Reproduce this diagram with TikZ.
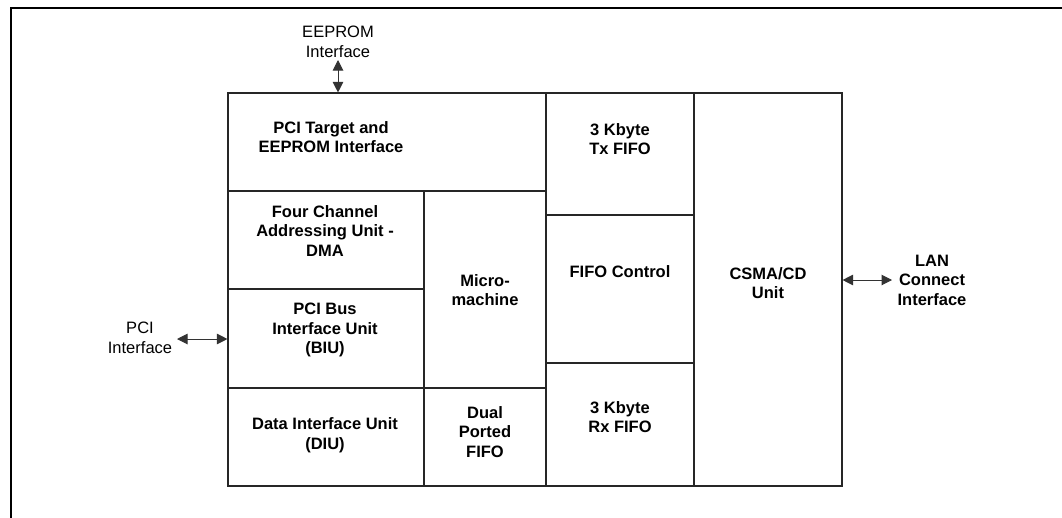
\documentclass[tikz,border=0pt]{standalone}
\usepackage{fontspec}
\setmainfont{Liberation Sans}
\usetikzlibrary{arrows.meta,fit}
\begin{document}
\begin{tikzpicture}[x=1pt,y=-1pt,
  blk/.style={draw=black!85, line width=1.1pt, inner sep=0pt},
  lbl/.style={align=center, inner sep=0pt, font=\fontsize{16.5}{19.5}\selectfont\bfseries},
  ext/.style={align=center, inner sep=0pt, font=\fontsize{16.5}{19.5}\selectfont},
  conn/.style={draw=black!80, line width=1pt, {Triangle[length=10.5pt,width=10.5pt]}-{Triangle[length=10.5pt,width=10.5pt]}}]
\useasboundingbox (0,0) rectangle (1062,517);
% outer frame (only top and left visible)
\draw[line width=2.4pt] (11,520) -- (11,8) -- (1065,8);
% blocks
\node[blk, fit={(228,93) (546,191)}] (ptarget) {};
\node[blk, fit={(228,191) (424,289)}] (dma) {};
\node[blk, fit={(228,289) (424,388)}] (biu) {};
\node[blk, fit={(228,388) (424,486)}] (diu) {};
\node[blk, fit={(424,191) (546,388)}] (micro) {};
\node[blk, fit={(424,388) (546,486)}] (dual) {};
\node[blk, fit={(546,93) (694,215)}] (tx) {};
\node[blk, fit={(546,215) (694,363)}] (fifoc) {};
\node[blk, fit={(546,363) (694,486)}] (rx) {};
\node[blk, fit={(694,93) (842,486)}] (csma) {};
% block texts
\node[lbl] (tptarget) at (331,137) {PCI Target and\\EEPROM Interface};
\node[lbl] (tdma) at (325,231) {Four Channel\\Addressing Unit -\\DMA};
\node[lbl] (tbiu) at (325,330) {PCI Bus\\Interface Unit\\(BIU)};
\node[lbl] (tdiu) at (325,435) {Data Interface Unit\\(DIU)};
\node[lbl] (tmicro) at (485,290) {Micro-\\machine};
\node[lbl] (tdual) at (485,432) {Dual\\Ported\\FIFO};
\node[lbl] (ttx) at (620,139) {3 Kbyte\\Tx FIFO};
\node[lbl] (tfifoc) at (620,272) {FIFO Control};
\node[lbl] (trx) at (620,417) {3 Kbyte\\Rx FIFO};
\node[lbl] (tcsma) at (768,283) {CSMA/CD\\Unit};
% external labels
\node[ext] (eeprom) at (338,42) {EEPROM\\Interface};
\node[ext] (pcii) at (140,338) {PCI\\Interface};
\node[lbl] (lan) at (932,280) {LAN\\Connect\\Interface};
% connector free ends
\coordinate (eepEnd) at (338,60);
\coordinate (pciEnd) at (177,339);
\coordinate (lanEnd) at (892,280);
% connectors
\draw[conn] (eepEnd) -- (eepEnd |- ptarget.north);
\draw[conn] (pciEnd) -- (pciEnd -| biu.west);
\draw[conn] (csma.east |- lanEnd) -- (lanEnd);
\end{tikzpicture}
\end{document}
